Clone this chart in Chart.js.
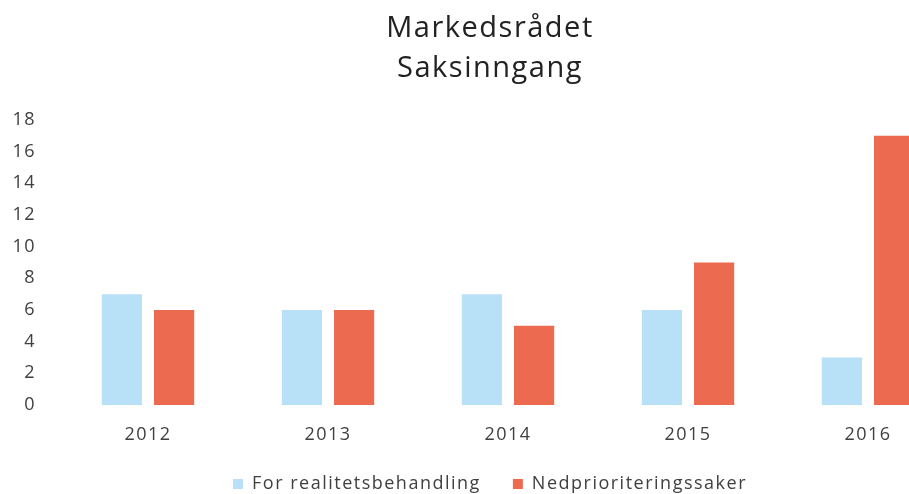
<!DOCTYPE html>
<html>
<head>
<meta charset="utf-8">
<script src="https://cdn.jsdelivr.net/npm/chart.js@4"></script>
<style>
  html, body { margin: 0; padding: 0; background: #fff; overflow: hidden; }
  #wrap { width: 980px; height: 494px; }
</style>
</head>
<body>
<div id="wrap"><canvas id="saksChart"></canvas></div>
<script>
/* Markedsrådet - saksinngang */

const years = ['2012', '2013', '2014', '2015', '2016'];
const realitet = [7, 6, 7, 6, 3];
const nedprioritert = [6, 6, 5, 9, 17];
const yTicks = [0, 2, 4, 6, 8, 10, 12, 14, 16, 18];

const fontName = '"Open Sans", Lato, sans-serif';
const ctx = document.getElementById('saksChart');

// the picture has wide, loose lettering - spread the canvas text a bit
const spacing = {
  id: 'spacing',
  beforeUpdate(chart) { chart.ctx.letterSpacing = '1.5px'; },
  beforeDraw(chart) { chart.ctx.letterSpacing = '1.5px'; }
};

const saksChart = new Chart(ctx, {
  type: 'bar',
  data: {
    labels: years,
    datasets: [{
      label: 'For realitetsbehandling',
      data: realitet,
      backgroundColor: '#b8e1f8'
    }, {
      label: 'Nedprioriteringssaker',
      data: nedprioritert,
      backgroundColor: '#ec6a50'
    }]
  },
  plugins: [spacing],
  options: {
    responsive: true,
    maintainAspectRatio: false,
    animation: false,
    layout: { padding: 0 },
    datasets: {
      bar: { categoryPercentage: 0.58, barPercentage: 0.77 }
    },
    plugins: {
      title: {
        display: true,
        text: ['Markedsrådet', 'Saksinngang'],
        color: '#222',
        font: { family: fontName, size: 29, weight: 'normal', lineHeight: 1.38 },
        padding: { top: 9, bottom: 31 }
      },
      legend: {
        position: 'bottom',
        maxHeight: 51,
        labels: {
          boxWidth: 10,
          boxHeight: 10,
          padding: 32,
          color: '#404040',
          font: { family: fontName, size: 18 }
        }
      },
      tooltip: { enabled: false }
    },
    scales: {
      x: {
        grid: { display: false, drawTicks: false },
        border: { display: false },
        ticks: { color: '#404040', padding: 19, font: { family: fontName, size: 18 } },
        afterFit: (axis) => { axis.height = 38; }
      },
      y: {
        min: 0,
        max: 18,
        afterBuildTicks: (axis) => { axis.ticks = yTicks.map(v => ({ value: v })); },
        grid: { display: false, drawTicks: false },
        border: { display: false },
        ticks: { color: '#404040', padding: 22, font: { family: fontName, size: 18 } },
        afterFit: (axis) => { axis.width = 58; }
      },
      // empty strip on the right, the last group runs off the picture
      yRight: {
        position: 'right',
        display: true,
        grid: { display: false, drawTicks: false },
        border: { display: false },
        ticks: { display: false },
        afterFit: (axis) => { axis.width = 22; }
      }
    }
  }
});
</script>
</body>
</html>
